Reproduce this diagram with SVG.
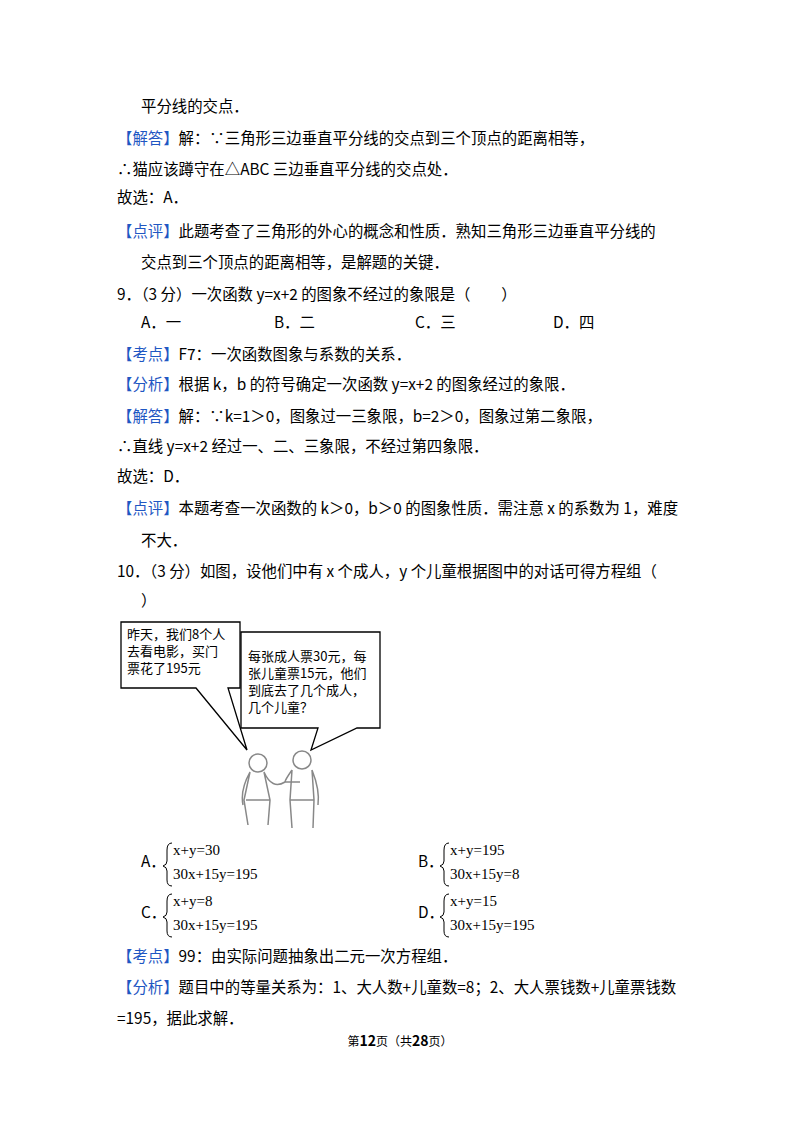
<svg xmlns="http://www.w3.org/2000/svg" width="800" height="1132" viewBox="0 0 800 1132">
<style>
text{font-family:"Noto Sans CJK SC","Noto Sans",sans-serif;font-size:15.4px;fill:#000}
.b{fill:#1f57c3}
.m{font-family:"Liberation Serif","Noto Sans CJK SC",serif;font-size:15px}
.s{font-size:13px}
.bub{fill:#fff;stroke:#000;stroke-width:1.3}
.fig{fill:none;stroke:#888;stroke-width:1.5}
</style>
<rect width="800" height="1132" fill="#fff"/>
<text x="141" y="112">平分线的交点．</text>
<text x="117" y="144"><tspan class="b">【解答】</tspan>解：∵三角形三边垂直平分线的交点到三个顶点的距离相等，</text>
<text x="117" y="175">∴猫应该蹲守在△ABC 三边垂直平分线的交点处．</text>
<text x="117" y="203">故选：A．</text>
<text x="117" y="237"><tspan class="b">【点评】</tspan>此题考查了三角形的外心的概念和性质．熟知三角形三边垂直平分线的</text>
<text x="141" y="268">交点到三个顶点的距离相等，是解题的关键．</text>
<text x="117" y="300">9．（3 分）一次函数 y=x+2 的图象不经过的象限是（　　）</text>
<text x="141" y="328">A．一</text>
<text x="274" y="328">B．二</text>
<text x="415" y="328">C．三</text>
<text x="553" y="328">D．四</text>
<text x="117" y="360"><tspan class="b">【考点】</tspan>F7：一次函数图象与系数的关系．</text>
<text x="117" y="390"><tspan class="b">【分析】</tspan>根据 k，b 的符号确定一次函数 y=x+2 的图象经过的象限．</text>
<text x="117" y="422"><tspan class="b">【解答】</tspan>解：∵k=1＞0，图象过一三象限，b=2＞0，图象过第二象限，</text>
<text x="117" y="452">∴直线 y=x+2 经过一、二、三象限，不经过第四象限．</text>
<text x="117" y="482">故选：D．</text>
<text x="117" y="514"><tspan class="b">【点评】</tspan>本题考查一次函数的 k＞0，b＞0 的图象性质．需注意 x 的系数为 1，难度</text>
<text x="141" y="546">不大．</text>
<text x="117" y="577">10．（3 分）如图，设他们中有 x 个成人，y 个儿童根据图中的对话可得方程组（</text>
<text x="141" y="606">）</text>
<g id="bubble1">
<path class="bub" d="M121,622 H240 V688 H228 L247,750 L196,688 H121 Z"/>
<text class="s" x="127" y="639">昨天，我们8个人</text>
<text class="s" x="127" y="656">去看电影，买门</text>
<text class="s" x="127" y="673">票花了195元</text>
</g>
<g id="bubble2">
<path class="bub" d="M241,632 H380 V728 H357 L311,750 L318,728 H241 Z"/>
<text class="s" x="248" y="661">每张成人票30元，每</text>
<text class="s" x="248" y="678">张儿童票15元，他们</text>
<text class="s" x="248" y="695">到底去了几个成人，</text>
<text class="s" x="248" y="712">几个儿童？</text>
</g>
<g id="people">
<circle class="fig" cx="258" cy="763" r="9"/>
<path class="fig" d="M250,772 L244,800 L248,825 M264,772 L270,800 L268,825 M250,772 Q240,790 243,805 M264,772 Q272,790 285,782 M246,800 H270"/>
<circle class="fig" cx="302" cy="760" r="9"/>
<path class="fig" d="M292,770 L290,800 L292,828 M312,770 L314,800 L313,828 M292,770 Q285,780 285,782 H300 M312,770 Q320,790 318,805 M290,800 H314"/>
</g>
<g id="options">
<text x="141" y="867">A．</text>
<text class="m" x="173" y="855">x+y=30</text>
<text class="m" x="173" y="879">30x+15y=195</text>
<text x="418" y="867">B．</text>
<text class="m" x="450" y="855">x+y=195</text>
<text class="m" x="450" y="879">30x+15y=8</text>
<text x="141" y="918">C．</text>
<text class="m" x="173" y="906">x+y=8</text>
<text class="m" x="173" y="930">30x+15y=195</text>
<text x="418" y="918">D．</text>
<text class="m" x="450" y="906">x+y=15</text>
<text class="m" x="450" y="930">30x+15y=195</text>
</g>
<g fill="none" stroke="#000" stroke-width="1">
<path d="M172,843 Q167,843 167,850 V861 Q167,865 163,866 Q167,867 167,871 V880 Q167,886 172,886"/>
<path d="M449,843 Q444,843 444,850 V861 Q444,865 440,866 Q444,867 444,871 V880 Q444,886 449,886"/>
<path d="M172,894 Q167,894 167,901 V912 Q167,916 163,917 Q167,918 167,922 V931 Q167,937 172,937"/>
<path d="M449,894 Q444,894 444,901 V912 Q444,916 440,917 Q444,918 444,922 V931 Q444,937 449,937"/>
</g>
<text x="117" y="962"><tspan class="b">【考点】</tspan>99：由实际问题抽象出二元一次方程组．</text>
<text x="117" y="993"><tspan class="b">【分析】</tspan>题目中的等量关系为：1、大人数+儿童数=8；2、大人票钱数+儿童票钱数</text>
<text x="117" y="1024">=195，据此求解．</text>
<text x="400" y="1046" text-anchor="middle" style="font-size:12px">第<tspan font-weight="bold" font-size="14">12</tspan>页（共<tspan font-weight="bold" font-size="14">28</tspan>页）</text>
</svg>
